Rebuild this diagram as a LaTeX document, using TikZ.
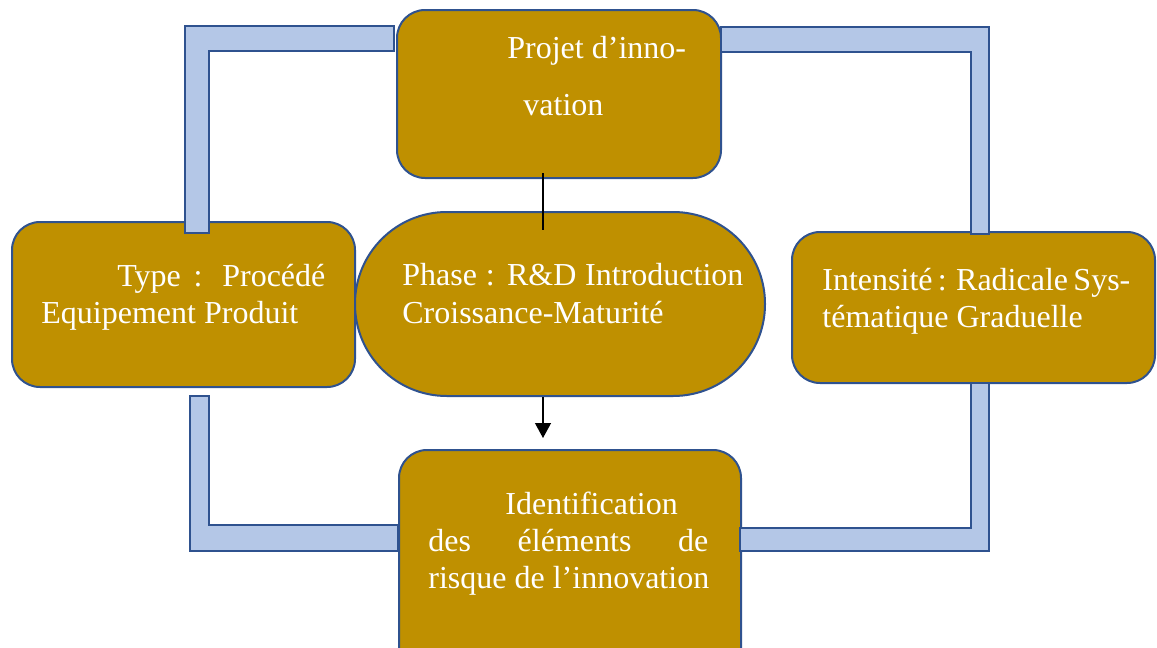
\documentclass[tikz,border=0pt]{standalone}
\usepackage{fontspec}
\setmainfont{Liberation Serif}
\usepackage{xcolor}
\usetikzlibrary{arrows.meta,positioning}
\definecolor{gold}{RGB}{191,144,0}
\definecolor{edgeblue}{RGB}{47,82,143}
\definecolor{barblue}{RGB}{180,199,231}

\begin{document}
\begin{tikzpicture}[x=0.5pt,y=-0.5pt,
                    box/.style={draw=edgeblue, line width=1pt, fill=gold, rounded corners=14pt, inner sep=0pt},
                    bar/.style={draw=edgeblue, line width=1pt, fill=barblue},
                    link/.style={black, line width=0.6pt},
                    txt/.style={text=white, align=left, inner sep=0pt, anchor=base west,
                                font=\fontsize{16pt}{18.5pt}\selectfont},
                   ]

\clip (0,0) rectangle (1157,648);

% the five blocks
\node[box, minimum width=162pt, minimum height=84pt] (proj) at (559,94) {};
\node[box, minimum width=171.5pt, minimum height=82.5pt] (type) at (183.5,304.5) {};
\node[box, minimum width=181.5pt, minimum height=75.5pt] (intens) at (973.5,307.5) {};
\node[box, minimum width=171pt, minimum height=120pt] (ident) at (570,570) {};
\node[box, rounded corners=45.9pt, minimum width=205pt, minimum height=92pt] (phase) at (560,304) {};

% texts (base = last line)
\node[txt, font=\fontsize{16pt}{28.5pt}\selectfont] (projtext) at (507,115) {Projet d’inno-\\\hspace*{8pt}vation};
\node[txt] (typetext) at (41,323) {\hspace*{38pt}\makebox[104pt][s]{Type : Procédé}\\Equipement Produit};
\node[txt, font=\fontsize{16pt}{19pt}\selectfont] (phasetext) at (402,323) {\makebox[170.5pt][s]{Phase : R\&D Introduction}\\Croissance-Maturité};
\node[txt] (intenstext) at (822,327) {\makebox[151.5pt][s]{Intensité : Radicale Sys-}\\tématique Graduelle};
\node[txt] (identtext) at (428,588) {\hspace*{38.5pt}Identification\\\makebox[140pt][s]{des éléments de}\\risque de l’innovation};

% frame bars
\draw[bar] (185,233) -- (185,26) -- (394,26) -- (394,51) -- (209,51) -- (209,233) -- cycle;
\draw[bar] (721,27) -- (989,27) -- (989,234) -- (971,234) -- (971,52) -- (721,52) -- cycle;
\draw[bar] (190,396) -- (209,396) -- (209,525) -- (398,525) -- (398,551) -- (190,551) -- cycle;
\draw[bar] (971,383) -- (989,383) -- (989,551) -- (740,551) -- (740,528) -- (971,528) -- cycle;

% links
\draw[link] ([xshift=-8pt,yshift=3pt]proj.south) -- ([xshift=-8.5pt,yshift=-9.5pt]phase.north);
\draw[link,-{Triangle[width=8pt,length=7.5pt]}] ([xshift=-8.5pt]phase.south) -- ++(0,41) coordinate (tip);

\end{tikzpicture}
\end{document}
